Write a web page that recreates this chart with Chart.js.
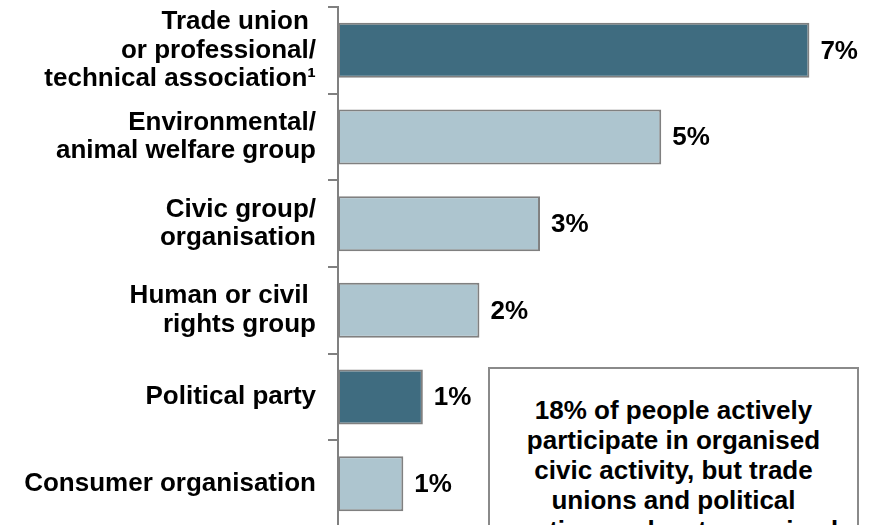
<!DOCTYPE html>
<html>
<head>
<meta charset="utf-8">
<script src="https://cdn.jsdelivr.net/npm/chart.js@4/dist/chart.umd.min.js"></script>
<style>
  html, body { margin: 0; padding: 0; background: #fff; overflow: hidden; }
  #wrap { position: relative; width: 872px; height: 525px; overflow: hidden; }
  #civicChart { position: absolute; left: 0; top: 0; }
  .note {
    position: absolute;
    left: 488px;
    top: 367px;
    width: 367px;
    height: 200px;
    border: 2px solid #8a8a8a;
    background: #fff;
    box-sizing: content-box;
    font-family: "Liberation Sans", Arial, sans-serif;
    font-weight: bold;
    font-size: 26px;
    line-height: 30px;
    text-align: center;
    color: #000;
    padding-top: 26px;
  }
</style>
</head>
<body>
<div id="wrap">
  <canvas id="civicChart" width="872" height="530"></canvas>
  <div class="note">18% of people actively<br>participate in organised<br>civic activity, but trade<br>unions and political<br>parties are least organised</div>
</div>
<script>
const categories = [
  ['Trade union ', 'or professional/', 'technical association\u00b9'],
  ['Environmental/', 'animal welfare group'],
  ['Civic group/', 'organisation'],
  ['Human or civil ', 'rights group'],
  ['Political party'],
  ['Consumer organisation']
];
const shares = [7.0, 4.8, 3.0, 2.1, 1.26, 0.97];
const highlighted = [true, false, false, false, true, false];

const DARK = '#3f6c80';
const LIGHT = '#adc5cf';
const EDGE = '#808080';
const FONT = '"Liberation Sans", Arial, sans-serif';

// percentage text to the right of each bar
const valueLabels = {
  id: 'valueLabels',
  afterDatasetsDraw(chart) {
    const { ctx } = chart;
    const meta = chart.getDatasetMeta(0);
    ctx.save();
    ctx.font = 'bold 26px ' + FONT;
    ctx.fillStyle = '#000';
    ctx.textAlign = 'left';
    ctx.textBaseline = 'middle';
    meta.data.forEach((bar, i) => {
      const v = chart.data.datasets[0].data[i];
      ctx.fillText(Math.round(v) + '%', bar.x + 11, bar.y + 1);
    });
    ctx.restore();
  }
};

const ctx = document.getElementById('civicChart').getContext('2d');

new Chart(ctx, {
  type: 'bar',
  data: {
    labels: categories,
    datasets: [{
      data: shares,
      backgroundColor: highlighted.map(h => h ? DARK : LIGHT),
      borderColor: EDGE,
      borderWidth: 2,
      borderSkipped: false,
      barPercentage: 0.635,
      categoryPercentage: 1
    }]
  },
  options: {
    indexAxis: 'y',
    responsive: false,
    animation: false,
    layout: { padding: { top: 7, right: 2, bottom: 3, left: 0 } },
    plugins: {
      legend: { display: false },
      tooltip: { enabled: false }
    },
    scales: {
      x: { display: false, min: 0, max: 7.9 },
      y: {
        // fixed axis width, and no extra room for the tall multi-line labels
        afterFit(scale) {
          scale.width = 338;
          scale.paddingTop = 0;
          scale.paddingBottom = 0;
        },
        grid: {
          drawOnChartArea: false,
          drawTicks: true,
          tickLength: 10,
          color: EDGE,
          lineWidth: 2,
          offset: true
        },
        border: { display: true, color: EDGE, width: 2 },
        ticks: {
          autoSkip: false,
          padding: 12,
          color: '#000',
          font: { family: FONT, size: 26, weight: 'bold', lineHeight: 1.1 }
        }
      }
    }
  },
  plugins: [valueLabels]
});
</script>
</body>
</html>
